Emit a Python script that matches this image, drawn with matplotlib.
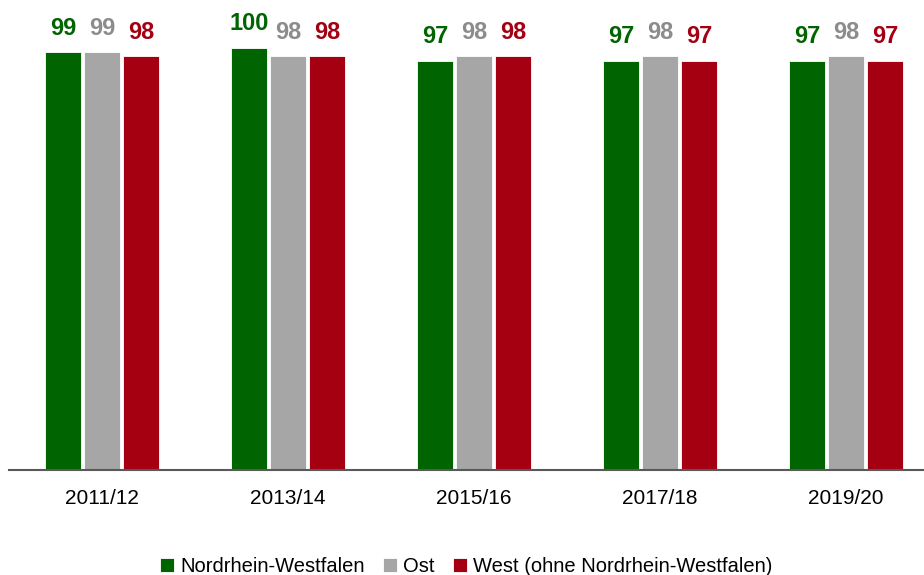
import numpy as np
import matplotlib
matplotlib.use('Agg')
import matplotlib.pyplot as plt

# Data
years = ['2011/12', '2013/14', '2015/16', '2017/18', '2019/20']
nrw = [99, 100, 97, 97, 97]
ost = [99, 98, 98, 98, 98]
west = [98, 98, 98, 97, 97]

series_names = ['Nordrhein-Westfalen', 'Ost', 'West (ohne Nordrhein-Westfalen)']
bar_colors = ['#006400', '#a6a6a6', '#a50012']
label_colors = ['#006400', '#8c8c8c', '#a50012']

FONT = ['Liberation Sans Narrow', 'Liberation Sans', 'DejaVu Sans']
plt.rcParams['font.family'] = FONT

fig = plt.figure(figsize=(9.24, 5.75), dpi=100)
ax = fig.add_axes([9 / 924, 105 / 575, 930 / 924, 422 / 575])

x = np.arange(len(years))
step = 0.21
width = 0.19
for i, (vals, col, lcol) in enumerate(zip([nrw, ost, west], bar_colors, label_colors)):
    pos = x + (i - 1) * step
    bars = ax.bar(pos, vals, width=width, color=col, edgecolor='white', linewidth=0.6,
                  label=series_names[i])
    for b, v in zip(bars, vals):
        ax.text(b.get_x() + b.get_width() / 2, v + 3.0, str(v), ha='center', va='bottom',
                color=lcol, fontsize=17, fontweight='bold', clip_on=False)

ax.set_xlim(-0.5, 4.5)
ax.set_ylim(0, 100)
ax.set_xticks(x)
ax.set_xticklabels(years, fontsize=15)
ax.tick_params(axis='x', length=0, pad=14)
ax.set_yticks([])
for s in ['top', 'right', 'left']:
    ax.spines[s].set_visible(False)
ax.spines['bottom'].set_color('#595959')
ax.spines['bottom'].set_linewidth(1.5)

fig.legend(loc='lower center', bbox_to_anchor=(466 / 924, -0.033), ncol=3, frameon=False,
           fontsize=14.5, handlelength=0.7, handleheight=0.7, handletextpad=0.3,
           columnspacing=0.9)

fig.savefig('out.png', dpi=100)
